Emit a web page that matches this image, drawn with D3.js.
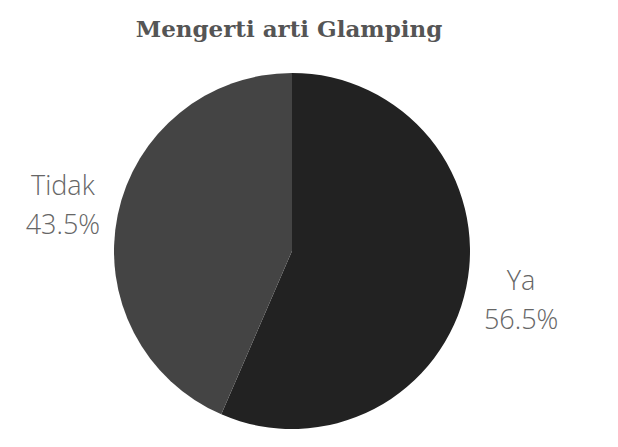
<!DOCTYPE html>
<html>
<head>
<meta charset="utf-8">
<script src="https://cdn.jsdelivr.net/npm/d3@7"></script>
<style>
  body { margin: 0; background: #fff; }
  svg { display: block; }
</style>
</head>
<body>
<svg id="chart" width="618" height="447"></svg>
<script>
var title = "Mengerti arti Glamping";
var categories = ["Ya", "Tidak"];
var values = [56.5, 43.5];
var colors = ["#222222", "#444444"];

var svg = d3.select("#chart");
var width = 618, height = 447;
var cx = 292, cy = 251, radius = 178;

svg.append("rect")
    .attr("width", width)
    .attr("height", height)
    .attr("fill", "#fff");

svg.append("text")
    .attr("x", 289)
    .attr("y", 37)
    .attr("text-anchor", "middle")
    .style("font-family", "'DejaVu Serif', serif")
    .style("font-weight", "bold")
    .style("font-size", "23px")
    .style("fill", "#555")
    .text(title);

var data = categories.map(function(c, i) { return { name: c, value: values[i] }; });

var pie = d3.pie()
    .sort(null)
    .value(function(d) { return d.value; });

var arc = d3.arc().innerRadius(0).outerRadius(radius);

var g = svg.append("g")
    .attr("transform", "translate(" + cx + "," + cy + ")");

var arcs = pie(data);

g.selectAll("path")
    .data(arcs)
    .enter().append("path")
    .attr("d", arc)
    .attr("fill", function(d, i) { return colors[i]; });

// labels sit outside the slice, near its middle angle
var labelArc = d3.arc().innerRadius(radius + 56).outerRadius(radius + 56);

var labels = svg.append("g")
    .attr("transform", "translate(" + cx + "," + cy + ")")
    .selectAll("text")
    .data(arcs)
    .enter().append("text")
    .attr("text-anchor", "middle")
    .attr("transform", function(d) {
        var p = labelArc.centroid(d);
        return "translate(" + p[0] + "," + p[1] + ")";
    })
    .style("font-family", "'Open Sans', sans-serif")
    .style("font-weight", 300)
    .style("font-size", "27px")
    .style("fill", "#666");

labels.append("tspan")
    .attr("x", 0)
    .attr("dy", "-0.3em")
    .text(function(d) { return d.data.name; });

labels.append("tspan")
    .attr("x", 0)
    .attr("dy", "1.42em")
    .text(function(d) { return d3.format(".1f")(d.data.value) + "%"; });
</script>
</body>
</html>
